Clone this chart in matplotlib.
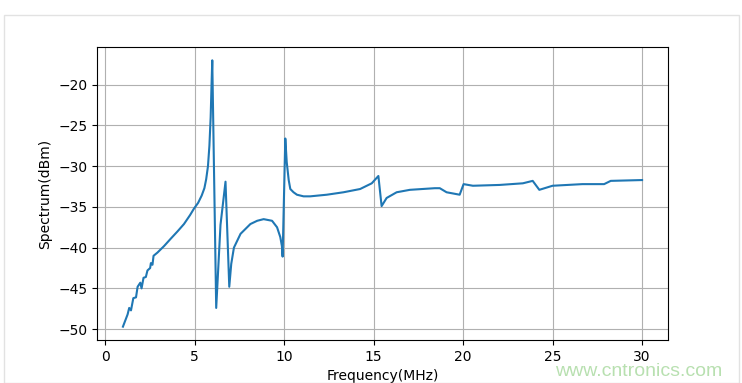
import matplotlib.pyplot as plt
from matplotlib.patches import Rectangle

# spectrum trace (MHz, dBm)
freq = [1.00, 1.26, 1.35, 1.45, 1.58, 1.73, 1.82, 1.97, 2.04, 2.15,
        2.28, 2.37, 2.52, 2.56, 2.65, 2.71, 2.93, 3.30, 3.67, 4.05,
        4.41, 4.75, 4.97, 5.20, 5.40, 5.55, 5.65, 5.75, 5.83, 5.90,
        5.95, 5.99, 6.21, 6.45, 6.73, 6.94, 7.05, 7.20, 7.57, 8.12, 8.50,
        8.86, 9.33, 9.61, 9.79, 9.88, 9.92, 10.07, 10.15, 10.26, 10.35,
        10.53, 10.72, 11.09, 11.46, 12.39, 13.32, 14.25, 14.90, 15.27, 15.45,
        15.73, 16.29, 17.03, 18.42, 18.70, 19.08, 19.81, 20.03, 20.55, 22.04,
        23.34, 23.89, 24.26, 25.00, 26.67, 27.88, 28.25, 30.00]
spec = [-49.7, -48.2, -47.4, -47.7, -46.2, -46.1, -44.8, -44.3, -45.0, -43.7,
        -43.6, -42.8, -42.5, -41.9, -42.1, -41.0, -40.6, -39.8, -38.9, -38.0,
        -37.1, -36.0, -35.2, -34.5, -33.6, -32.7, -31.6, -30.0, -27.5, -24.0,
        -20.0, -17.0, -47.4, -37.2, -31.9, -44.8, -42.0, -40.0, -38.3, -37.1, -36.7,
        -36.5, -36.7, -37.5, -38.7, -39.8, -41.1, -26.6, -29.5, -31.7, -32.8,
        -33.2, -33.5, -33.7, -33.7, -33.5, -33.2, -32.8, -32.1, -31.2, -34.9,
        -33.9, -33.2, -32.9, -32.7, -32.7, -33.2, -33.5, -32.2, -32.4, -32.3,
        -32.1, -31.8, -32.9, -32.4, -32.2, -32.2, -31.8, -31.7]

fig = plt.figure(figsize=(7.42, 3.83), dpi=100)
ax = fig.add_axes([0.1307, 0.1123, 0.7696, 0.765])

ax.plot(freq, spec, color='#1f77b4', lw=1.5)
ax.grid(True)
ax.set_xlabel('Frequency(MHz)')
ax.set_ylabel('Spectrum(dBm)')

# light page frame + watermark seen in the screenshot
fig.patches.append(Rectangle((0.006, 0.0), 0.99, 0.96, transform=fig.transFigure,
                             fill=False, edgecolor='#e2e2e2', lw=1))
fig.text(0.973, 0.008, 'www.cntronics.com', color='#b8e0b0', fontsize=14,
         ha='right', va='bottom', family='Liberation Sans')

fig.savefig('out.png', dpi=100)
